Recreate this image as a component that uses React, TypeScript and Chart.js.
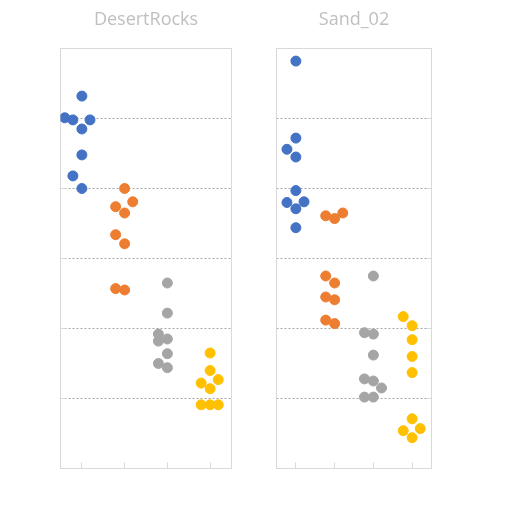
import React, { useEffect, useRef } from "react";
import { Chart, registerables } from "chart.js";

Chart.register(...registerables);

// ---- data ----
const groups = ["Group 1", "Group 2", "Group 3", "Group 4"];
const colors = ["#4472C4", "#ED7D31", "#A5A5A5", "#FFC000"];
const yTicks = [0, 1, 2, 3, 4, 5, 6];
const gridValues = [1, 2, 3, 4, 5];

// DesertRocks
const desertBlueY = [5.32, 5.01, 4.98, 4.98, 4.85, 4.48, 4.18, 4.0];
const desertBlueX = [0, -0.4, -0.21, 0.19, 0, 0, -0.21, 0];
const desertOrangeY = [4.0, 3.81, 3.74, 3.65, 3.34, 3.21, 2.57, 2.55];
const desertOrangeX = [0, 0.19, -0.21, 0, -0.21, 0, -0.21, 0];
const desertGrayY = [2.65, 2.22, 1.92, 1.82, 1.85, 1.64, 1.5, 1.44];
const desertGrayX = [0, 0, -0.21, -0.21, 0, 0, -0.21, 0];
const desertYellowY = [1.65, 1.4, 1.27, 1.22, 1.14, 0.91, 0.91, 0.91];
const desertYellowX = [0, 0, 0.19, -0.21, 0, -0.21, 0, 0.19];

// Sand_02
const sandBlueY = [5.82, 4.72, 4.56, 4.45, 3.97, 3.8, 3.81, 3.71, 3.44];
const sandBlueX = [0, 0, -0.23, 0, 0, -0.23, 0.21, 0, 0];
const sandOrangeY = [3.61, 3.57, 3.65, 2.75, 2.65, 2.45, 2.41, 2.12, 2.07];
const sandOrangeX = [-0.23, 0, 0.21, -0.23, 0, -0.23, 0, -0.23, 0];
const sandGrayY = [2.75, 1.94, 1.92, 1.62, 1.28, 1.25, 1.15, 1.02, 1.02];
const sandGrayX = [0, -0.23, 0, 0, -0.23, 0, 0.21, -0.23, 0];
const sandYellowY = [2.17, 2.04, 1.84, 1.6, 1.37, 0.71, 0.57, 0.54, 0.44];
const sandYellowX = [-0.23, 0, 0, 0, 0, 0, 0.21, -0.23, 0];

function buildDatasets(ys: number[][], offs: number[][]) {
  return ys.map((arr, g) => ({
    label: groups[g],
    data: arr.map((y, i) => ({ x: g + offs[g][i], y })),
    backgroundColor: colors[g],
    borderColor: colors[g],
    pointRadius: 5,
    pointHoverRadius: 5,
    borderWidth: 1,
    showLine: false,
  }));
}

const framePlugin = {
  id: "frame",
  beforeDatasetsDraw(chart: any, _args: any, opts: any) {
    const { ctx, chartArea: a, scales } = chart;
    const xs = scales.x;
    const ys = scales.y;
    ctx.save();
    ctx.lineWidth = 1;
    // dotted gridlines
    ctx.strokeStyle = "#a6a6a6";
    ctx.setLineDash([2, 2]);
    for (const t of gridValues) {
      const y = Math.floor(ys.getPixelForValue(t)) + 0.5;
      ctx.beginPath();
      ctx.moveTo(a.left, y);
      ctx.lineTo(a.right, y);
      ctx.stroke();
    }
    ctx.setLineDash([]);
    ctx.strokeStyle = "#d9d9d9";
    ctx.strokeRect(a.left, a.top, a.right - a.left, a.bottom - a.top);
    // bottom inside ticks
    groups.forEach((_, g) => {
      const x = Math.floor(xs.getPixelForValue(g)) + 0.5;
      ctx.beginPath();
      ctx.moveTo(x, a.bottom);
      ctx.lineTo(x, a.bottom - 6);
      ctx.stroke();
    });
    // side inside ticks
    const side = opts && opts.side === "right" ? "right" : "left";
    yTicks.forEach((t) => {
      const y = Math.floor(ys.getPixelForValue(t)) + 0.5;
      const x0 = side === "left" ? a.left : a.right;
      const x1 = side === "left" ? x0 + 5 : x0 - 5;
      ctx.beginPath();
      ctx.moveTo(x0, y);
      ctx.lineTo(x1, y);
      ctx.stroke();
    });
    ctx.restore();
  },
};

function Panel(props: {
  title: string;
  ys: number[][];
  offs: number[][];
  left: number;
  padLeft: number;
  padRight: number;
  side: string;
}) {
  const ref = useRef<HTMLCanvasElement | null>(null);
  useEffect(() => {
    if (!ref.current) return;
    const chart = new Chart(ref.current, {
      type: "scatter",
      data: { datasets: buildDatasets(props.ys, props.offs) as any },
      options: {
        animation: false,
        responsive: false,
        devicePixelRatio: 1,
        layout: {
          padding: { left: props.padLeft, right: props.padRight, top: 0, bottom: 43.5 },
        },
        scales: {
          x: { type: "linear", min: -0.5, max: 3.5, display: false },
          y: { type: "linear", min: 0, max: 6, display: false },
        },
        plugins: {
          legend: { display: false },
          tooltip: { enabled: false },
          title: {
            display: true,
            text: props.title,
            color: "#bfbfbf",
            font: { family: "'Open Sans', sans-serif", size: 18, weight: "normal" as any },
            padding: { top: 9, bottom: 17.9 },
          },
          frame: { side: props.side },
        } as any,
      },
      plugins: [framePlugin],
    });
    return () => chart.destroy();
  }, []);
  return (
    <canvas
      ref={ref}
      width={256}
      height={512}
      style={{ position: "absolute", left: props.left, top: 0, width: 256, height: 512, display: "block" }}
    />
  );
}

export default function App() {
  return (
    <div style={{ position: "fixed", left: 0, top: 0, width: 512, height: 512, background: "#ffffff" }}>
      <Panel
        title="DesertRocks"
        ys={[desertBlueY, desertOrangeY, desertGrayY, desertYellowY]}
        offs={[desertBlueX, desertOrangeX, desertGrayX, desertYellowX]}
        left={0}
        padLeft={60.5}
        padRight={24.5}
        side="left"
      />
      <Panel
        title="Sand_02"
        ys={[sandBlueY, sandOrangeY, sandGrayY, sandYellowY]}
        offs={[sandBlueX, sandOrangeX, sandGrayX, sandYellowX]}
        left={256}
        padLeft={20.5}
        padRight={80.5}
        side="right"
      />
    </div>
  );
}
